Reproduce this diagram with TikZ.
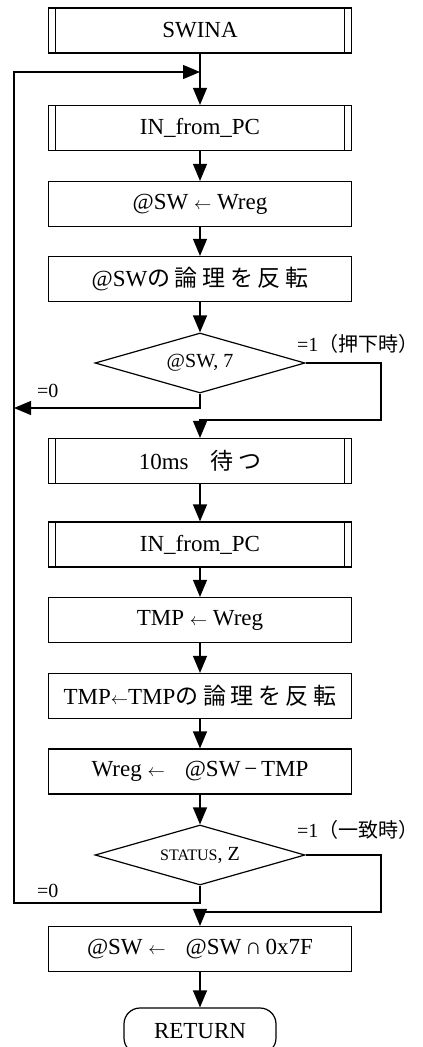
\documentclass[tikz,border=0pt]{standalone}
\usepackage{fontspec}
\setmainfont{Liberation Serif}
\newfontfamily\jp[LetterSpace=20]{Noto Sans CJK JP}
\newfontfamily\jpl{Noto Sans CJK JP}
\newcommand{\larr}{{\fontsize{17}{17}\selectfont$\leftarrow$}}
\usetikzlibrary{shapes.geometric,arrows.meta}
\tikzset{
  proc/.style={draw, line width=1.2pt, minimum width=303pt, minimum height=45pt, inner sep=0pt},
  subproc/.style={proc, path picture={
      \draw[line width=1.2pt] ([xshift=7pt]path picture bounding box.north west) -- ([xshift=7pt]path picture bounding box.south west)
        ([xshift=-7pt]path picture bounding box.north east) -- ([xshift=-7pt]path picture bounding box.south east);}},
  decide/.style={draw, diamond, aspect=3.5, line width=1.2pt, minimum width=210pt, minimum height=60pt, inner sep=0pt, font=\fontsize{20}{22}\selectfont},
  term/.style={draw, line width=1.2pt, rounded corners=16pt, minimum width=152pt, minimum height=46pt, inner sep=0pt},
  flow/.style={line width=1.2pt, -{Triangle[width=14pt,length=17pt]}},
  wire/.style={line width=1.2pt},
  tag/.style={font=\fontsize{20}{22}\selectfont, inner sep=0pt}
}
\begin{document}
\begin{tikzpicture}[x=1pt, y=-1pt, every node/.style={font=\fontsize{23}{26}\selectfont}]
  \useasboundingbox (0,0) rectangle (423,1047);
  % main column
  \node[subproc] (swina) at (200,30.5) {SWINA};
  \node[subproc] (in1) at (200,128) {IN\_from\_PC};
  \node[proc] (set1) at (200,204) {@SW \larr{} Wreg};
  \node[proc] (inv1) at (200,279) {@SW{\jp の論理を反転}};
  \node[decide] (bit7) at (200,363) {@SW, 7};
  \node[subproc] (wait) at (200,461) {10ms\hspace{22pt}{\jp 待つ}};
  \node[subproc] (in2) at (200,544.5) {IN\_from\_PC};
  \node[proc] (set2) at (200,620) {TMP \larr{} Wreg};
  \node[proc] (inv2) at (200,696) {TMP\larr TMP{\jp の論理を反転}};
  \node[proc] (diff) at (200,771.5) {Wreg \larr\hspace{20pt}@SW\,−\,TMP};
  \node[decide] (zflag) at (200,855) {{\fontsize{16}{16}\selectfont STATUS}, Z};
  \node[proc] (mask) at (200,949) {@SW \larr\hspace{20pt}@SW\,∩\,0x7F};
  \node[term] (ret) at (200,1031) {RETURN};
  % branch labels
  \node[tag, anchor=west] (yes1) at (297,344) {=1{\jpl\fontsize{20}{22}\selectfont （押下時）}};
  \node[tag, anchor=west] (no1) at (37,391) {=0};
  \node[tag, anchor=west] (yes2) at (297,830) {=1{\jpl\fontsize{20}{22}\selectfont （一致時）}};
  \node[tag, anchor=west] (no2) at (37,891) {=0};
  % corner points
  \coordinate (join) at (200,72);
  \coordinate (r1) at (381,420);
  \coordinate (m1) at (200,420);
  \coordinate (l1) at (14,408);
  \coordinate (r2) at (381,912);
  \coordinate (m2) at (200,912);
  \coordinate (l2) at (14,903);
  % connectors
  \draw[wire] (swina) -- (join);
  \draw[flow] (join) -- (in1);
  \draw[flow] (in1) -- (set1);
  \draw[flow] (set1) -- (inv1);
  \draw[flow] (inv1) -- (bit7);
  \draw[flow] (bit7.east) -| (r1) -- (m1) -- (wait);
  \draw[flow] (bit7.south) |- (l1);
  \draw[flow] (wait) -- (in2);
  \draw[flow] (in2) -- (set2);
  \draw[flow] (set2) -- (inv2);
  \draw[flow] (inv2) -- (diff);
  \draw[flow] (diff) -- (zflag);
  \draw[flow] (zflag.east) -| (r2) -- (m2) -- (mask);
  \draw[flow] (zflag.south) |- (l2) |- (join);
  \draw[flow] (mask) -- (ret);
\end{tikzpicture}
\end{document}
